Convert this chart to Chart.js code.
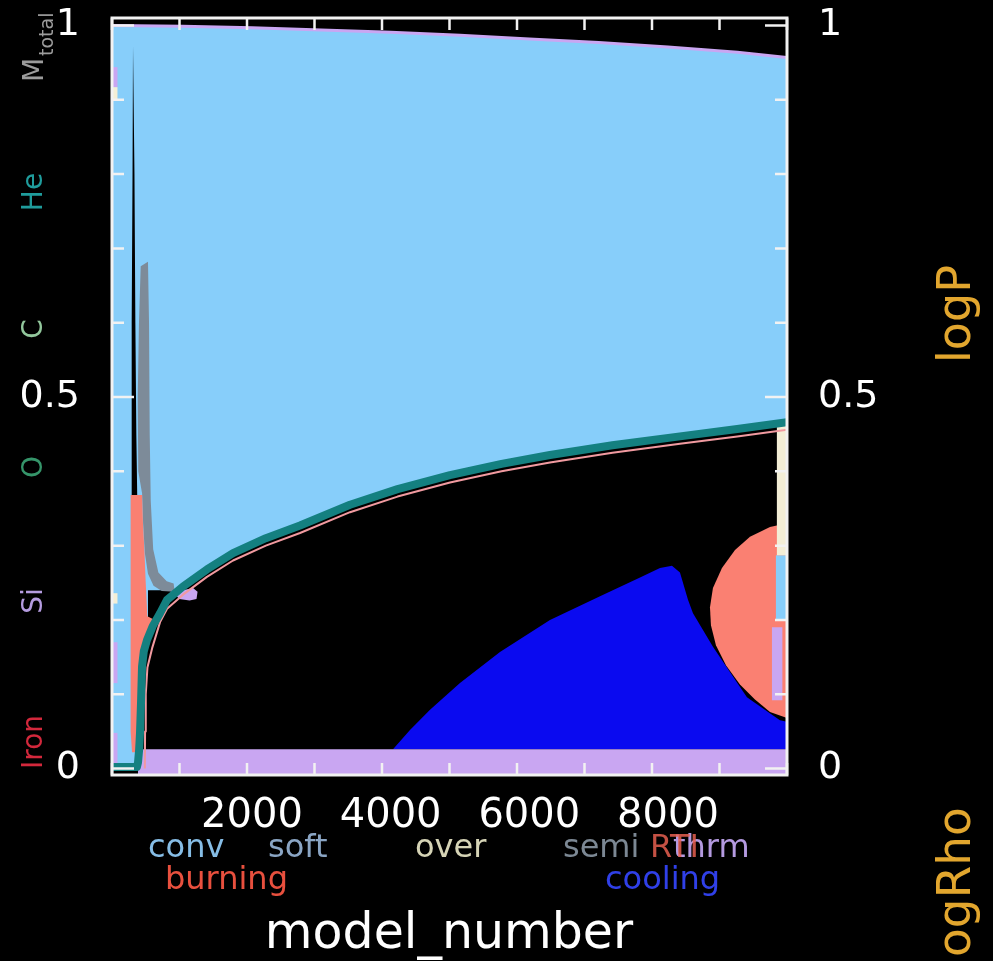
<!DOCTYPE html>
<html>
<head>
<meta charset="utf-8">
<title>Kippenhahn diagram</title>
<script src="https://cdn.jsdelivr.net/npm/chart.js@4.4.1/dist/chart.umd.min.js"></script>
<style>
  html, body { margin: 0; padding: 0; background: #000; }
  canvas { display: block; }
</style>
</head>
<body>
<canvas id="kipp" width="993" height="961"></canvas>
<script>
// region boundaries as [model_number, m/Mstar] pairs
const massTop = [[-19,1.000],[1000,0.999],[2000,0.997],[3000,0.994],[4000,0.991],[5000,0.987],
  [6000,0.982],[7000,0.977],[8000,0.971],[9000,0.964],[9717,0.957]];

const heCore = [[-19,0.002],[340,0.002],[356,0.008],[372,0.025],[385,0.048],[400,0.090],[414,0.137],
  [440,0.158],[486,0.173],[570,0.192],[674,0.209],[775,0.227],[1006,0.245],[1350,0.268],[1727,0.290],
  [2200,0.310],[2693,0.327],[3414,0.355],[4100,0.376],[4856,0.395],[5600,0.410],[6298,0.422],
  [7200,0.435],[8173,0.447],[9000,0.457],[9717,0.466]];

const heCoreEdge = [[455,0.000],[458,0.050],[468,0.100],[492,0.136],[560,0.162],[674,0.197],
  [775,0.215],[1006,0.234],[1350,0.258],[1727,0.280],[2200,0.300],[2693,0.317],[3414,0.345],
  [4100,0.366],[4856,0.385],[5600,0.400],[6298,0.412],[7200,0.425],[8173,0.437],[9000,0.447],[9717,0.456]];

const radSpike = [[284,0.972],[292,0.972],[305,0.800],[318,0.600],[332,0.450],[345,0.366],
  [262,0.366],[262,0.450],[268,0.600],[277,0.800]];

const radNotch = [[488,0.200],[500,0.240],[830,0.240],[830,0.231],[674,0.209],[600,0.195]];

const semiZone = [[395,0.676],[500,0.682],[515,0.600],[525,0.450],[540,0.360],[575,0.295],
  [650,0.264],[770,0.252],[870,0.249],[885,0.238],[700,0.239],[580,0.246],[500,0.262],
  [455,0.290],[430,0.330],[415,0.370],[360,0.400],[352,0.500],[370,0.600]];

const burnLeft = [[250,0.368],[415,0.368],[428,0.330],[450,0.290],[465,0.255],[490,0.205],
  [600,0.200],[470,0.165],[420,0.120],[400,0.070],[385,0.030],[360,0.022],[270,0.022],[250,0.050]];

const coolTop = [[4034,0.026],[4279,0.052],[4568,0.079],[5000,0.115],[5577,0.157],[6298,0.200],
  [7020,0.232],[7597,0.257],[7885,0.270],[8058,0.273],[8173,0.264],[8289,0.227],[8361,0.209],
  [8649,0.164],[9139,0.096],[9615,0.065],[9717,0.063]];
const coolBase = [[9717,0.026],[4034,0.026]];

const burnRight = [[9717,0.330],[9472,0.325],[9183,0.312],[8967,0.294],[8779,0.270],[8649,0.243],
  [8606,0.217],[8620,0.193],[8692,0.166],[8836,0.139],[9038,0.113],[9255,0.093],[9472,0.076],[9717,0.068]];

const thrmBand = [[356,0.026],[9717,0.026],[9717,-0.009],[356,-0.009]];
const thrmBlob = [[880,0.236],[1000,0.240],[1150,0.243],[1215,0.238],[1200,0.228],[1100,0.226],[950,0.228]];
const thrmRight = [[9500,0.190],[9650,0.190],[9650,0.092],[9500,0.092]];
const overRight = [[9571,0.287],[9717,0.287],[9717,0.466],[9571,0.466]];
const convRight = [[9557,0.200],[9717,0.200],[9717,0.287],[9557,0.287]];

// small mixing patches along the first models
const thrmLeft = [[0.917,0.944],[0.115,0.170],[0.006,0.048]];
const overLeft = [[0.900,0.917],[0.222,0.236]];

const xTicks = [2000, 4000, 6000, 8000];
const yTicks = [0, 0.5, 1];

const FONT = '"DejaVu Sans", sans-serif';
const C = {
  conv: '#87cefa', burn: '#fa8072', cool: '#0a0af0', thrm: '#c9a6f2',
  semi: '#7d8b99', over: '#f3eed6', core: '#148080', edge: '#f19aa0'
};

const pts = list => list.map(([x, y]) => ({ x, y }));
const strip = ([lo, hi]) => [[-19, lo], [60, lo], [60, hi], [-19, hi]];

// bottom layer first; order is reversed below so the first item is painted first
const layers = [];
function area(list, color) {
  layers.push({ data: pts(list), fill: 'shape', backgroundColor: color, borderWidth: 0,
    borderColor: 'rgba(0,0,0,0)', pointRadius: 0, tension: 0, clip: 0 });
}
function curve(list, color, width) {
  layers.push({ data: pts(list), fill: false, borderColor: color, borderWidth: width,
    pointRadius: 0, tension: 0, clip: 0, borderJoinStyle: 'round' });
}

area(massTop.concat(heCore.slice().reverse()), C.conv);
curve(massTop, C.thrm, 3);
thrmLeft.forEach(r => area(strip(r), C.thrm));
overLeft.forEach(r => area(strip(r), C.over));
area(radNotch, '#000');
area(semiZone, C.semi);
area(radSpike, '#000');
area(burnLeft, C.burn);
area(coolTop.concat(coolBase), C.cool);
area(burnRight, C.burn);
area(convRight, C.conv);
area(overRight, C.over);
area(thrmRight, C.thrm);
area(thrmBand, C.thrm);
area(thrmBlob, C.thrm);
curve(heCoreEdge, C.edge, 2);
curve(heCore, C.core, 8);
layers.forEach((d, i) => { d.order = layers.length - i; });

function rotText(ctx, text, x, y, color, size, align) {
  ctx.save();
  ctx.translate(x, y);
  ctx.rotate(-Math.PI / 2);
  ctx.fillStyle = color;
  ctx.font = size + 'px ' + FONT;
  ctx.textAlign = align || 'center';
  ctx.textBaseline = 'alphabetic';
  ctx.fillText(text, 0, 0);
  ctx.restore();
}

function flatText(ctx, text, x, y, color, size, align) {
  ctx.fillStyle = color;
  ctx.font = size + 'px ' + FONT;
  ctx.textAlign = align || 'left';
  ctx.textBaseline = 'alphabetic';
  ctx.fillText(text, x, y);
}

const decor = {
  id: 'decor',
  beforeDraw(chart) {
    const ctx = chart.ctx;
    ctx.save();
    ctx.fillStyle = '#000';
    ctx.fillRect(0, 0, chart.width, chart.height);
    ctx.restore();
  },
  afterDatasetsDraw(chart) {
    const { ctx, chartArea: a, scales: { x, y } } = chart;
    ctx.save();
    ctx.strokeStyle = '#f2f2f2';
    ctx.lineWidth = 2.5;
    ctx.beginPath();
    x.ticks.forEach(t => {
      const px = x.getPixelForValue(t.value);
      const len = t.value % 2000 === 0 ? 22 : 12;
      ctx.moveTo(px, a.bottom); ctx.lineTo(px, a.bottom - len);
      ctx.moveTo(px, a.top); ctx.lineTo(px, a.top + len);
    });
    y.ticks.forEach(t => {
      const py = y.getPixelForValue(t.value);
      const len = Math.abs(t.value * 2 - Math.round(t.value * 2)) < 1e-6 ? 22 : 12;
      ctx.moveTo(a.left, py); ctx.lineTo(a.left + len, py);
      ctx.moveTo(a.right, py); ctx.lineTo(a.right - len, py);
    });
    ctx.stroke();
    ctx.lineWidth = 3;
    ctx.strokeRect(a.left, a.top, a.right - a.left, a.bottom - a.top);
    ctx.restore();
  },
  afterDraw(chart) {
    const { ctx, chartArea: a, scales: { x } } = chart;
    ctx.save();
    // model_number tick labels, placed by the x scale
    xTicks.forEach(v => flatText(ctx, String(v), x.getPixelForValue(v), a.bottom + 52, '#ffffff', 40, 'center'));

    // abundance key on the left
    rotText(ctx, 'M', 43, 82, '#9c9c9c', 28, 'left');
    ctx.save();
    ctx.translate(43, 82);
    ctx.rotate(-Math.PI / 2);
    ctx.fillStyle = '#9c9c9c';
    ctx.font = '19px ' + FONT;
    ctx.textAlign = 'left';
    ctx.fillText('total', 26, 10);
    ctx.restore();
    rotText(ctx, 'He', 42, 192, '#1f9c9c', 28);
    rotText(ctx, 'C', 42, 329, '#92c79c', 28);
    rotText(ctx, 'O', 42, 467, '#35956a', 28);
    rotText(ctx, 'Si', 42, 601, '#b59ce0', 28);
    rotText(ctx, 'Iron', 42, 742, '#d3283c', 28);

    // right-hand profile names
    rotText(ctx, 'logP', 970, 314, '#e2a62e', 46);
    rotText(ctx, 'logRho', 970, 970, '#e2a62e', 47, 'left');

    // mixing key under the axis
    flatText(ctx, 'conv', 148, 857, '#86bde6', 32);
    flatText(ctx, 'soft', 268, 857, '#8aa5c4', 32);
    flatText(ctx, 'over', 415, 857, '#d6d4b6', 32);
    flatText(ctx, 'semi', 563, 857, '#7c8894', 32);
    flatText(ctx, 'thrm', 673, 857, '#b49ae0', 32);
    flatText(ctx, 'RTI', 650, 857, 'rgba(230,95,80,0.85)', 32);
    flatText(ctx, 'burning', 165, 889, '#e8503e', 32);
    flatText(ctx, 'cooling', 605, 889, '#3040e8', 32);

    flatText(ctx, 'model_number', 449, 948, '#ffffff', 49, 'center');
    ctx.restore();
  }
};

const yLabel = v => {
  const hit = yTicks.find(t => Math.abs(t - v) < 1e-6);
  return hit === undefined ? '' : String(hit);
};

// keep the plot box fixed: no extra room for overhanging tick labels
const fixBox = size => s => {
  if (s.isHorizontal()) s.height = size; else s.width = size;
  s.paddingTop = 0; s.paddingBottom = 0; s.paddingLeft = 0; s.paddingRight = 0;
};

Chart.defaults.font.family = FONT;

new Chart(document.getElementById('kipp'), {
  type: 'line',
  data: { datasets: layers },
  options: {
    responsive: false,
    animation: false,
    events: [],
    layout: { padding: { top: 18, left: 0, right: 0, bottom: 0 } },
    plugins: { legend: { display: false }, tooltip: { enabled: false } },
    scales: {
      x: {
        type: 'linear', position: 'bottom', min: -19, max: 9717,
        grid: { display: false, drawTicks: false }, border: { display: false },
        ticks: { stepSize: 1000, includeBounds: false, autoSkip: false, display: false },
        afterFit: fixBox(186)
      },
      y: {
        type: 'linear', position: 'left', min: -0.0087, max: 1.0101,
        grid: { display: false, drawTicks: false }, border: { display: false },
        ticks: {
          stepSize: 0.1, includeBounds: false, autoSkip: false,
          color: '#ffffff', font: { size: 38 }, padding: 32, callback: yLabel
        },
        afterFit: fixBox(112)
      },
      y2: {
        type: 'linear', position: 'right', min: -0.0087, max: 1.0101,
        grid: { display: false, drawTicks: false }, border: { display: false },
        ticks: {
          stepSize: 0.1, includeBounds: false, autoSkip: false,
          color: '#ffffff', font: { size: 38 }, padding: 31, callback: yLabel
        },
        afterFit: fixBox(206)
      }
    }
  },
  plugins: [decor]
});
</script>
</body>
</html>
